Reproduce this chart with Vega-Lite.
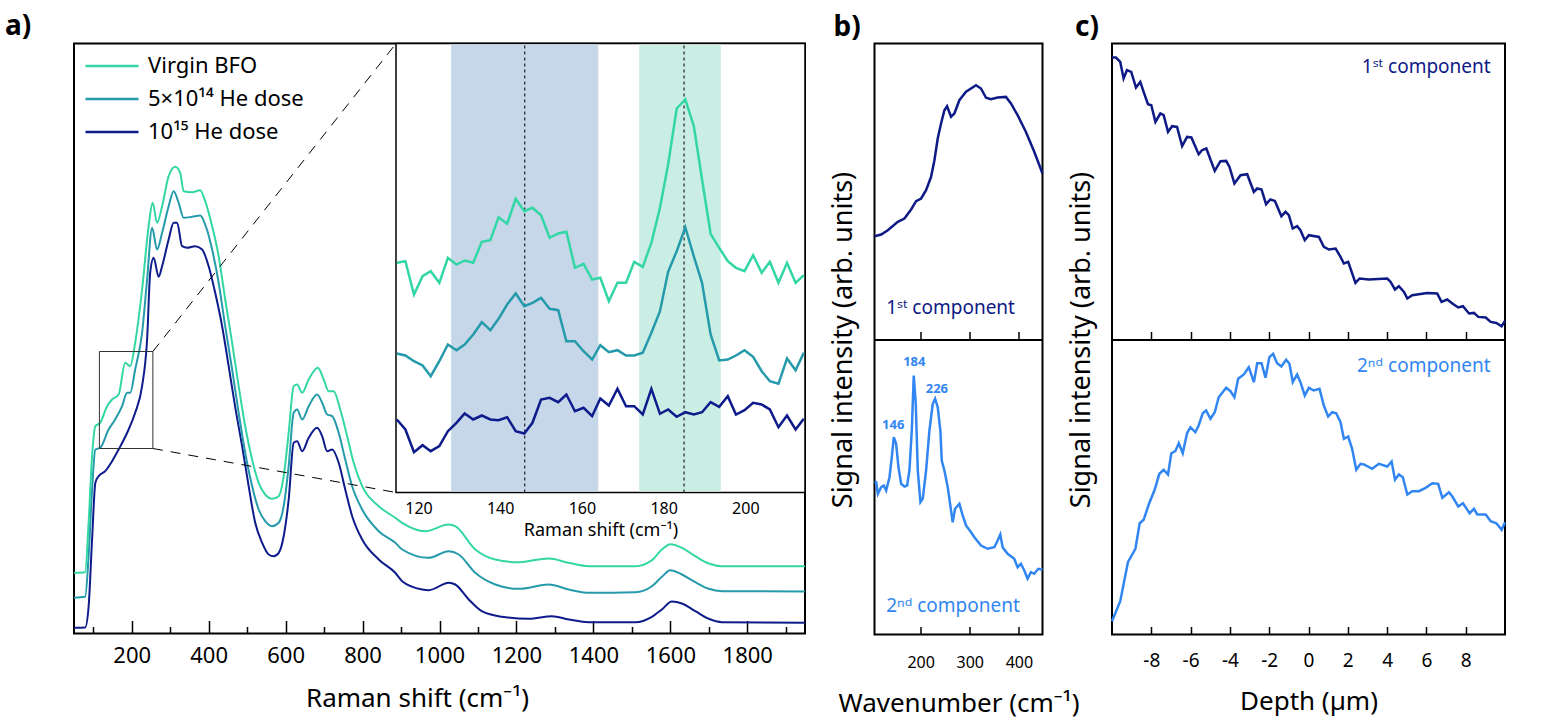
{
  "$schema": "https://vega.github.io/schema/vega-lite/v6.json",
  "padding": {"left": 4, "top": 11.5, "right": 10, "bottom": 8},
  "background": "white",
  "config": {
    "font": "Noto Sans",
    "view": {"stroke": "black", "strokeWidth": 2},
    "axis": {"labelFont": "Noto Sans", "titleFont": "Noto Sans", "titleFontWeight": "normal", "labelColor": "black", "titleColor": "black", "tickColor": "black", "grid": false, "labelOverlap": false, "tickWidth": 1.5},
    "title": {"anchor": "start", "frame": "group", "fontSize": 28, "fontWeight": "bold", "font": "Noto Sans", "color": "black", "baseline": "alphabetic", "offset": 2}
  },
  "datasets": {
    "main": [
      {"s":"10¹⁵ He dose","x":50,"y":5.7},{"s":"10¹⁵ He dose","x":79,"y":6},{"s":"10¹⁵ He dose","x":88,"y":27},{"s":"10¹⁵ He dose","x":97,"y":94},{"s":"10¹⁵ He dose","x":105.5,"y":150.7},{"s":"10¹⁵ He dose","x":114,"y":157.3},{"s":"10¹⁵ He dose","x":131,"y":162.3},{"s":"10¹⁵ He dose","x":149,"y":172.3},{"s":"10¹⁵ He dose","x":166,"y":184},{"s":"10¹⁵ He dose","x":192,"y":204},{"s":"10¹⁵ He dose","x":209,"y":220.7},{"s":"10¹⁵ He dose","x":227,"y":247.3},{"s":"10¹⁵ He dose","x":240,"y":294},{"s":"10¹⁵ He dose","x":248,"y":360.7},{"s":"10¹⁵ He dose","x":257,"y":375.7},{"s":"10¹⁵ He dose","x":270,"y":356.7},{"s":"10¹⁵ He dose","x":279,"y":367.3},{"s":"10¹⁵ He dose","x":296,"y":394},{"s":"10¹⁵ He dose","x":309,"y":410.7},{"s":"10¹⁵ He dose","x":318,"y":410.7},{"s":"10¹⁵ He dose","x":331,"y":387.3},{"s":"10¹⁵ He dose","x":344,"y":385.7},{"s":"10¹⁵ He dose","x":365,"y":387.3},{"s":"10¹⁵ He dose","x":383,"y":384},{"s":"10¹⁵ He dose","x":400,"y":367.3},{"s":"10¹⁵ He dose","x":417,"y":340.7},{"s":"10¹⁵ He dose","x":435,"y":307.3},{"s":"10¹⁵ He dose","x":452,"y":267.3},{"s":"10¹⁵ He dose","x":469,"y":226.3},{"s":"10¹⁵ He dose","x":487,"y":187.3},{"s":"10¹⁵ He dose","x":504,"y":147.3},{"s":"10¹⁵ He dose","x":521,"y":110.7},{"s":"10¹⁵ He dose","x":539,"y":90.7},{"s":"10¹⁵ He dose","x":556,"y":79},{"s":"10¹⁵ He dose","x":569,"y":77.3},{"s":"10¹⁵ He dose","x":582,"y":80.7},{"s":"10¹⁵ He dose","x":595,"y":97.3},{"s":"10¹⁵ He dose","x":608,"y":134},{"s":"10¹⁵ He dose","x":621,"y":190.7},{"s":"10¹⁵ He dose","x":630,"y":192.3},{"s":"10¹⁵ He dose","x":643,"y":182.3},{"s":"10¹⁵ He dose","x":660,"y":195.7},{"s":"10¹⁵ He dose","x":682,"y":205.7},{"s":"10¹⁵ He dose","x":695,"y":197.3},{"s":"10¹⁵ He dose","x":708,"y":182.3},{"s":"10¹⁵ He dose","x":721,"y":184},{"s":"10¹⁵ He dose","x":738,"y":170.7},{"s":"10¹⁵ He dose","x":755,"y":144},{"s":"10¹⁵ He dose","x":773,"y":117.3},{"s":"10¹⁵ He dose","x":799,"y":94},{"s":"10¹⁵ He dose","x":842,"y":74},{"s":"10¹⁵ He dose","x":885,"y":60.7},{"s":"10¹⁵ He dose","x":903,"y":52.3},{"s":"10¹⁵ He dose","x":955,"y":44},{"s":"10¹⁵ He dose","x":972,"y":43.3},{"s":"10¹⁵ He dose","x":1024,"y":50.7},{"s":"10¹⁵ He dose","x":1041,"y":49},{"s":"10¹⁵ He dose","x":1076,"y":34},{"s":"10¹⁵ He dose","x":1110,"y":22.3},{"s":"10¹⁵ He dose","x":1162,"y":16.7},{"s":"10¹⁵ He dose","x":1232,"y":14.7},{"s":"10¹⁵ He dose","x":1292,"y":17.3},{"s":"10¹⁵ He dose","x":1336,"y":14},{"s":"10¹⁵ He dose","x":1388,"y":11.3},{"s":"10¹⁵ He dose","x":1509,"y":11.3},{"s":"10¹⁵ He dose","x":1552,"y":16.7},{"s":"10¹⁵ He dose","x":1578,"y":24},{"s":"10¹⁵ He dose","x":1604,"y":32},{"s":"10¹⁵ He dose","x":1630,"y":30},{"s":"10¹⁵ He dose","x":1665,"y":22.3},{"s":"10¹⁵ He dose","x":1700,"y":14.7},{"s":"10¹⁵ He dose","x":1734,"y":11.3},{"s":"10¹⁵ He dose","x":1950,"y":10.7},
      {"s":"5×10¹⁴ He dose","x":50,"y":35.7},{"s":"5×10¹⁴ He dose","x":79,"y":36.7},{"s":"5×10¹⁴ He dose","x":88,"y":77.3},{"s":"5×10¹⁴ He dose","x":97,"y":144},{"s":"5×10¹⁴ He dose","x":105.5,"y":184},{"s":"5×10¹⁴ He dose","x":118,"y":185.7},{"s":"5×10¹⁴ He dose","x":140,"y":204},{"s":"5×10¹⁴ He dose","x":157,"y":214},{"s":"5×10¹⁴ He dose","x":175,"y":227.3},{"s":"5×10¹⁴ He dose","x":188,"y":240.7},{"s":"5×10¹⁴ He dose","x":196,"y":240.7},{"s":"5×10¹⁴ He dose","x":209,"y":264},{"s":"5×10¹⁴ He dose","x":227,"y":300.7},{"s":"5×10¹⁴ He dose","x":240,"y":354},{"s":"5×10¹⁴ He dose","x":253,"y":405.7},{"s":"5×10¹⁴ He dose","x":266,"y":384},{"s":"5×10¹⁴ He dose","x":279,"y":400.7},{"s":"5×10¹⁴ He dose","x":296,"y":427.3},{"s":"5×10¹⁴ He dose","x":309,"y":442.3},{"s":"5×10¹⁴ He dose","x":322,"y":430.7},{"s":"5×10¹⁴ He dose","x":335,"y":415.7},{"s":"5×10¹⁴ He dose","x":357,"y":416.7},{"s":"5×10¹⁴ He dose","x":378,"y":418},{"s":"5×10¹⁴ He dose","x":391,"y":409},{"s":"5×10¹⁴ He dose","x":409,"y":384},{"s":"5×10¹⁴ He dose","x":426,"y":350.7},{"s":"5×10¹⁴ He dose","x":443,"y":307.3},{"s":"5×10¹⁴ He dose","x":461,"y":264},{"s":"5×10¹⁴ He dose","x":478,"y":220.7},{"s":"5×10¹⁴ He dose","x":495,"y":180.7},{"s":"5×10¹⁴ He dose","x":513,"y":147.3},{"s":"5×10¹⁴ He dose","x":530,"y":124},{"s":"5×10¹⁴ He dose","x":547,"y":112.3},{"s":"5×10¹⁴ He dose","x":565,"y":107.3},{"s":"5×10¹⁴ He dose","x":582,"y":110.7},{"s":"5×10¹⁴ He dose","x":595,"y":127.3},{"s":"5×10¹⁴ He dose","x":608,"y":167.3},{"s":"5×10¹⁴ He dose","x":621,"y":220.7},{"s":"5×10¹⁴ He dose","x":630,"y":224},{"s":"5×10¹⁴ He dose","x":643,"y":214},{"s":"5×10¹⁴ He dose","x":660,"y":227.3},{"s":"5×10¹⁴ He dose","x":682,"y":239},{"s":"5×10¹⁴ He dose","x":695,"y":230.7},{"s":"5×10¹⁴ He dose","x":708,"y":219},{"s":"5×10¹⁴ He dose","x":721,"y":217.3},{"s":"5×10¹⁴ He dose","x":738,"y":200.7},{"s":"5×10¹⁴ He dose","x":755,"y":174},{"s":"5×10¹⁴ He dose","x":773,"y":147.3},{"s":"5×10¹⁴ He dose","x":799,"y":124},{"s":"5×10¹⁴ He dose","x":842,"y":102.3},{"s":"5×10¹⁴ He dose","x":885,"y":90.7},{"s":"5×10¹⁴ He dose","x":903,"y":84},{"s":"5×10¹⁴ He dose","x":972,"y":75.7},{"s":"5×10¹⁴ He dose","x":1024,"y":82.3},{"s":"5×10¹⁴ He dose","x":1050,"y":79},{"s":"5×10¹⁴ He dose","x":1093,"y":60.7},{"s":"5×10¹⁴ He dose","x":1145,"y":49},{"s":"5×10¹⁴ He dose","x":1206,"y":44.7},{"s":"5×10¹⁴ He dose","x":1284,"y":49},{"s":"5×10¹⁴ He dose","x":1336,"y":44},{"s":"5×10¹⁴ He dose","x":1388,"y":40.7},{"s":"5×10¹⁴ He dose","x":1509,"y":41.3},{"s":"5×10¹⁴ He dose","x":1552,"y":47.3},{"s":"5×10¹⁴ He dose","x":1578,"y":56.7},{"s":"5×10¹⁴ He dose","x":1600,"y":63.3},{"s":"5×10¹⁴ He dose","x":1630,"y":59},{"s":"5×10¹⁴ He dose","x":1665,"y":51.3},{"s":"5×10¹⁴ He dose","x":1700,"y":44.7},{"s":"5×10¹⁴ He dose","x":1734,"y":42.3},{"s":"5×10¹⁴ He dose","x":1950,"y":42},
      {"s":"Virgin BFO","x":50,"y":60.7},{"s":"Virgin BFO","x":79,"y":61.3},{"s":"Virgin BFO","x":88,"y":110.7},{"s":"Virgin BFO","x":97,"y":177.3},{"s":"Virgin BFO","x":105.5,"y":207.3},{"s":"Virgin BFO","x":118,"y":210.7},{"s":"Virgin BFO","x":136,"y":227.3},{"s":"Virgin BFO","x":149,"y":234},{"s":"Virgin BFO","x":166,"y":239},{"s":"Virgin BFO","x":183,"y":270.7},{"s":"Virgin BFO","x":196,"y":267.3},{"s":"Virgin BFO","x":209,"y":290.7},{"s":"Virgin BFO","x":227,"y":344},{"s":"Virgin BFO","x":244,"y":407.3},{"s":"Virgin BFO","x":254.5,"y":430.7},{"s":"Virgin BFO","x":266,"y":410.7},{"s":"Virgin BFO","x":279,"y":427.3},{"s":"Virgin BFO","x":296,"y":457.3},{"s":"Virgin BFO","x":313,"y":466.7},{"s":"Virgin BFO","x":326,"y":460.7},{"s":"Virgin BFO","x":335,"y":442.3},{"s":"Virgin BFO","x":357,"y":441.3},{"s":"Virgin BFO","x":378,"y":443.3},{"s":"Virgin BFO","x":391,"y":432.3},{"s":"Virgin BFO","x":409,"y":407.3},{"s":"Virgin BFO","x":426,"y":377.3},{"s":"Virgin BFO","x":443,"y":334},{"s":"Virgin BFO","x":461,"y":290.7},{"s":"Virgin BFO","x":478,"y":247.3},{"s":"Virgin BFO","x":495,"y":207.3},{"s":"Virgin BFO","x":513,"y":174},{"s":"Virgin BFO","x":530,"y":150.7},{"s":"Virgin BFO","x":547,"y":139},{"s":"Virgin BFO","x":565,"y":134.7},{"s":"Virgin BFO","x":582,"y":137.3},{"s":"Virgin BFO","x":595,"y":157.3},{"s":"Virgin BFO","x":608,"y":200.7},{"s":"Virgin BFO","x":621,"y":247.3},{"s":"Virgin BFO","x":630,"y":249},{"s":"Virgin BFO","x":643,"y":240.7},{"s":"Virgin BFO","x":660,"y":254},{"s":"Virgin BFO","x":684,"y":265.7},{"s":"Virgin BFO","x":699,"y":254},{"s":"Virgin BFO","x":712,"y":242.3},{"s":"Virgin BFO","x":725,"y":242.3},{"s":"Virgin BFO","x":742,"y":224},{"s":"Virgin BFO","x":760,"y":197.3},{"s":"Virgin BFO","x":777,"y":170.7},{"s":"Virgin BFO","x":799,"y":147.3},{"s":"Virgin BFO","x":842,"y":127.3},{"s":"Virgin BFO","x":885,"y":115.7},{"s":"Virgin BFO","x":903,"y":110.7},{"s":"Virgin BFO","x":963,"y":102.3},{"s":"Virgin BFO","x":1024,"y":109},{"s":"Virgin BFO","x":1041,"y":107.3},{"s":"Virgin BFO","x":1093,"y":84},{"s":"Virgin BFO","x":1145,"y":74},{"s":"Virgin BFO","x":1206,"y":71.3},{"s":"Virgin BFO","x":1284,"y":75},{"s":"Virgin BFO","x":1336,"y":70.7},{"s":"Virgin BFO","x":1388,"y":67.3},{"s":"Virgin BFO","x":1509,"y":67.3},{"s":"Virgin BFO","x":1552,"y":73.3},{"s":"Virgin BFO","x":1578,"y":84},{"s":"Virgin BFO","x":1600,"y":89.3},{"s":"Virgin BFO","x":1630,"y":85.7},{"s":"Virgin BFO","x":1665,"y":77.3},{"s":"Virgin BFO","x":1700,"y":70},{"s":"Virgin BFO","x":1734,"y":67.3},{"s":"Virgin BFO","x":1950,"y":67.3}
    ],
    "inset": [
      {"s":"10¹⁵ He dose","x":114.7,"y":73},{"s":"10¹⁵ He dose","x":116.8,"y":63},{"s":"10¹⁵ He dose","x":118.9,"y":40.3},{"s":"10¹⁵ He dose","x":121.0,"y":47.3},{"s":"10¹⁵ He dose","x":123.0,"y":41.3},{"s":"10¹⁵ He dose","x":125.1,"y":46.3},{"s":"10¹⁵ He dose","x":127.2,"y":61.3},{"s":"10¹⁵ He dose","x":129.3,"y":69.7},{"s":"10¹⁵ He dose","x":131.3,"y":79},{"s":"10¹⁵ He dose","x":133.4,"y":73},{"s":"10¹⁵ He dose","x":135.5,"y":77},{"s":"10¹⁵ He dose","x":137.6,"y":73},{"s":"10¹⁵ He dose","x":139.6,"y":72.3},{"s":"10¹⁵ He dose","x":141.7,"y":75.3},{"s":"10¹⁵ He dose","x":143.8,"y":61.3},{"s":"10¹⁵ He dose","x":145.9,"y":59},{"s":"10¹⁵ He dose","x":147.9,"y":69.7},{"s":"10¹⁵ He dose","x":150.0,"y":93},{"s":"10¹⁵ He dose","x":152.1,"y":94.7},{"s":"10¹⁵ He dose","x":154.2,"y":90.3},{"s":"10¹⁵ He dose","x":156.2,"y":98},{"s":"10¹⁵ He dose","x":158.3,"y":81.3},{"s":"10¹⁵ He dose","x":160.4,"y":84.7},{"s":"10¹⁵ He dose","x":162.5,"y":76.3},{"s":"10¹⁵ He dose","x":164.5,"y":94},{"s":"10¹⁵ He dose","x":166.6,"y":87},{"s":"10¹⁵ He dose","x":168.7,"y":103.7},{"s":"10¹⁵ He dose","x":170.8,"y":86.3},{"s":"10¹⁵ He dose","x":172.8,"y":86.3},{"s":"10¹⁵ He dose","x":174.9,"y":78},{"s":"10¹⁵ He dose","x":177.0,"y":103.7},{"s":"10¹⁵ He dose","x":179.1,"y":78.7},{"s":"10¹⁵ He dose","x":181.1,"y":83},{"s":"10¹⁵ He dose","x":183.2,"y":75.7},{"s":"10¹⁵ He dose","x":185.3,"y":80.3},{"s":"10¹⁵ He dose","x":187.4,"y":78},{"s":"10¹⁵ He dose","x":189.4,"y":80.3},{"s":"10¹⁵ He dose","x":191.5,"y":90.3},{"s":"10¹⁵ He dose","x":193.6,"y":85.7},{"s":"10¹⁵ He dose","x":195.7,"y":96.3},{"s":"10¹⁵ He dose","x":197.7,"y":78},{"s":"10¹⁵ He dose","x":199.8,"y":82.3},{"s":"10¹⁵ He dose","x":201.9,"y":89.7},{"s":"10¹⁵ He dose","x":204.0,"y":88},{"s":"10¹⁵ He dose","x":206.0,"y":83},{"s":"10¹⁵ He dose","x":208.1,"y":65.3},{"s":"10¹⁵ He dose","x":210.2,"y":77},{"s":"10¹⁵ He dose","x":212.3,"y":63},{"s":"10¹⁵ He dose","x":214.3,"y":73.7},
      {"s":"5×10¹⁴ He dose","x":114.7,"y":139},{"s":"5×10¹⁴ He dose","x":116.8,"y":137},{"s":"5×10¹⁴ He dose","x":118.9,"y":131.3},{"s":"5×10¹⁴ He dose","x":121.0,"y":127},{"s":"5×10¹⁴ He dose","x":123.0,"y":116.3},{"s":"5×10¹⁴ He dose","x":125.1,"y":131.3},{"s":"5×10¹⁴ He dose","x":127.2,"y":148},{"s":"5×10¹⁴ He dose","x":129.3,"y":142.3},{"s":"5×10¹⁴ He dose","x":131.3,"y":148},{"s":"5×10¹⁴ He dose","x":133.4,"y":158},{"s":"5×10¹⁴ He dose","x":135.5,"y":170.3},{"s":"5×10¹⁴ He dose","x":137.6,"y":162.3},{"s":"5×10¹⁴ He dose","x":139.6,"y":173.7},{"s":"5×10¹⁴ He dose","x":141.7,"y":188},{"s":"5×10¹⁴ He dose","x":143.8,"y":199},{"s":"5×10¹⁴ He dose","x":145.9,"y":186.3},{"s":"5×10¹⁴ He dose","x":147.9,"y":189.7},{"s":"5×10¹⁴ He dose","x":150.0,"y":194.7},{"s":"5×10¹⁴ He dose","x":152.1,"y":183.7},{"s":"5×10¹⁴ He dose","x":154.2,"y":182.3},{"s":"5×10¹⁴ He dose","x":156.2,"y":151.3},{"s":"5×10¹⁴ He dose","x":158.3,"y":151.3},{"s":"5×10¹⁴ He dose","x":160.4,"y":141.3},{"s":"5×10¹⁴ He dose","x":162.5,"y":133},{"s":"5×10¹⁴ He dose","x":164.5,"y":147.3},{"s":"5×10¹⁴ He dose","x":166.6,"y":140.3},{"s":"5×10¹⁴ He dose","x":168.7,"y":142.3},{"s":"5×10¹⁴ He dose","x":170.8,"y":137},{"s":"5×10¹⁴ He dose","x":172.8,"y":137},{"s":"5×10¹⁴ He dose","x":174.9,"y":139.7},{"s":"5×10¹⁴ He dose","x":177.0,"y":159.7},{"s":"5×10¹⁴ He dose","x":179.1,"y":181.3},{"s":"5×10¹⁴ He dose","x":181.1,"y":220.7},{"s":"5×10¹⁴ He dose","x":183.2,"y":241.3},{"s":"5×10¹⁴ He dose","x":185.3,"y":265.3},{"s":"5×10¹⁴ He dose","x":187.4,"y":236},{"s":"5×10¹⁴ He dose","x":189.4,"y":209.7},{"s":"5×10¹⁴ He dose","x":191.5,"y":158},{"s":"5×10¹⁴ He dose","x":193.6,"y":132},{"s":"5×10¹⁴ He dose","x":195.7,"y":133},{"s":"5×10¹⁴ He dose","x":197.7,"y":137},{"s":"5×10¹⁴ He dose","x":199.8,"y":142.3},{"s":"5×10¹⁴ He dose","x":201.9,"y":135.7},{"s":"5×10¹⁴ He dose","x":204.0,"y":121.3},{"s":"5×10¹⁴ He dose","x":206.0,"y":111.3},{"s":"5×10¹⁴ He dose","x":208.1,"y":108.7},{"s":"5×10¹⁴ He dose","x":210.2,"y":134},{"s":"5×10¹⁴ He dose","x":212.3,"y":122.3},{"s":"5×10¹⁴ He dose","x":214.3,"y":139.7},
      {"s":"Virgin BFO","x":114.7,"y":229.7},{"s":"Virgin BFO","x":116.8,"y":231.3},{"s":"Virgin BFO","x":118.9,"y":198},{"s":"Virgin BFO","x":121.0,"y":216.3},{"s":"Virgin BFO","x":123.0,"y":221.3},{"s":"Virgin BFO","x":125.1,"y":209.7},{"s":"Virgin BFO","x":127.2,"y":234.7},{"s":"Virgin BFO","x":129.3,"y":228},{"s":"Virgin BFO","x":131.3,"y":232},{"s":"Virgin BFO","x":133.4,"y":229.7},{"s":"Virgin BFO","x":135.5,"y":250.7},{"s":"Virgin BFO","x":137.6,"y":252.3},{"s":"Virgin BFO","x":139.6,"y":275.3},{"s":"Virgin BFO","x":141.7,"y":268.7},{"s":"Virgin BFO","x":143.8,"y":293.7},{"s":"Virgin BFO","x":145.9,"y":281.3},{"s":"Virgin BFO","x":147.9,"y":284.7},{"s":"Virgin BFO","x":150.0,"y":277.3},{"s":"Virgin BFO","x":152.1,"y":254.7},{"s":"Virgin BFO","x":154.2,"y":259},{"s":"Virgin BFO","x":156.2,"y":260.7},{"s":"Virgin BFO","x":158.3,"y":224.7},{"s":"Virgin BFO","x":160.4,"y":228.7},{"s":"Virgin BFO","x":162.5,"y":213},{"s":"Virgin BFO","x":164.5,"y":214.7},{"s":"Virgin BFO","x":166.6,"y":191.3},{"s":"Virgin BFO","x":168.7,"y":209.7},{"s":"Virgin BFO","x":170.8,"y":209.7},{"s":"Virgin BFO","x":172.8,"y":230.7},{"s":"Virgin BFO","x":174.9,"y":225.7},{"s":"Virgin BFO","x":177.0,"y":249.7},{"s":"Virgin BFO","x":179.1,"y":284.7},{"s":"Virgin BFO","x":181.1,"y":328},{"s":"Virgin BFO","x":183.2,"y":384},{"s":"Virgin BFO","x":185.3,"y":393},{"s":"Virgin BFO","x":187.4,"y":366.3},{"s":"Virgin BFO","x":189.4,"y":313},{"s":"Virgin BFO","x":191.5,"y":258.7},{"s":"Virgin BFO","x":193.6,"y":244.7},{"s":"Virgin BFO","x":195.7,"y":231.3},{"s":"Virgin BFO","x":197.7,"y":224.7},{"s":"Virgin BFO","x":199.8,"y":221.3},{"s":"Virgin BFO","x":201.9,"y":237.3},{"s":"Virgin BFO","x":204.0,"y":219.7},{"s":"Virgin BFO","x":206.0,"y":230.7},{"s":"Virgin BFO","x":208.1,"y":209.7},{"s":"Virgin BFO","x":210.2,"y":229.7},{"s":"Virgin BFO","x":212.3,"y":209.7},{"s":"Virgin BFO","x":214.3,"y":217.3}
    ],
    "b1": [
      {"x":106,"y":103.3},{"x":119.6,"y":105},{"x":133.1,"y":109.3},{"x":153.4,"y":117.7},{"x":167,"y":121},{"x":180.5,"y":130},{"x":190.7,"y":138.3},{"x":200.9,"y":141},{"x":211,"y":149.3},{"x":221.2,"y":162.7},{"x":228,"y":179.3},{"x":234.7,"y":201},{"x":241.5,"y":216},{"x":248.3,"y":229.3},{"x":253.7,"y":233.3},{"x":261.8,"y":222.7},{"x":268.6,"y":226},{"x":278.8,"y":239.3},{"x":292.3,"y":247.7},{"x":302.5,"y":251},{"x":312.6,"y":254.3},{"x":322.8,"y":251},{"x":333,"y":241.7},{"x":343.1,"y":240.3},{"x":356.7,"y":242},{"x":373.6,"y":242.6},{"x":383.8,"y":236},{"x":397.3,"y":224.3},{"x":414.3,"y":207.6},{"x":431.2,"y":187.7},{"x":448,"y":166}
    ],
    "b2": [
      {"x":106,"y":152},{"x":109.4,"y":152.3},{"x":112.8,"y":140.7},{"x":119.6,"y":147.3},{"x":125,"y":149},{"x":129.7,"y":144},{"x":136.5,"y":157.3},{"x":141.2,"y":177.3},{"x":145.3,"y":197.3},{"x":150,"y":190.7},{"x":154.8,"y":167.3},{"x":160.2,"y":150.7},{"x":167,"y":148},{"x":172.4,"y":149},{"x":177.1,"y":164},{"x":181.9,"y":204},{"x":185.9,"y":259},{"x":190,"y":230.7},{"x":194.1,"y":164},{"x":199.5,"y":132.3},{"x":204.2,"y":135.7},{"x":211,"y":164},{"x":217.8,"y":204},{"x":224.6,"y":230.7},{"x":229.3,"y":235.7},{"x":234.7,"y":227.3},{"x":240.1,"y":204},{"x":242.9,"y":174},{"x":248.3,"y":164},{"x":255.1,"y":147.3},{"x":261.8,"y":124},{"x":265.2,"y":112.3},{"x":270,"y":125.7},{"x":278.8,"y":130.7},{"x":285.5,"y":119},{"x":292.3,"y":109},{"x":302.5,"y":102.3},{"x":309.3,"y":97.3},{"x":322.8,"y":89},{"x":336.4,"y":85.7},{"x":349.9,"y":87.3},{"x":356.7,"y":94},{"x":362.1,"y":100},{"x":366.8,"y":87.3},{"x":377,"y":80.7},{"x":390.5,"y":75.7},{"x":397.3,"y":67.3},{"x":404.1,"y":70.7},{"x":410.9,"y":64},{"x":417.6,"y":55.7},{"x":424.4,"y":62.3},{"x":431.2,"y":60.7},{"x":439.3,"y":65.7},{"x":448,"y":64.7}
    ],
    "c1": [
      {"x":-10,"y":282},{"x":-9.8,"y":282},{"x":-9.58,"y":277.6},{"x":-9.41,"y":261},{"x":-9.24,"y":269.3},{"x":-9.02,"y":267.6},{"x":-8.78,"y":252},{"x":-8.56,"y":257.6},{"x":-8.39,"y":247.6},{"x":-8.17,"y":235.3},{"x":-8.0,"y":234.3},{"x":-7.79,"y":217.6},{"x":-7.54,"y":226},{"x":-7.37,"y":224.3},{"x":-7.15,"y":207.6},{"x":-6.94,"y":213.3},{"x":-6.69,"y":212.6},{"x":-6.43,"y":193.3},{"x":-6.18,"y":202.6},{"x":-5.96,"y":202},{"x":-5.59,"y":185.3},{"x":-5.42,"y":189.3},{"x":-5.2,"y":191},{"x":-4.77,"y":168.6},{"x":-4.48,"y":178.3},{"x":-4.19,"y":178.6},{"x":-4.02,"y":172.6},{"x":-3.77,"y":156},{"x":-3.46,"y":164.3},{"x":-3.12,"y":165.3},{"x":-2.78,"y":147.6},{"x":-2.61,"y":151},{"x":-2.39,"y":150},{"x":-2.16,"y":135.3},{"x":-1.94,"y":140},{"x":-1.71,"y":138.6},{"x":-1.38,"y":123.3},{"x":-1.17,"y":127.6},{"x":-1.0,"y":124.3},{"x":-0.8,"y":111},{"x":-0.58,"y":113.3},{"x":-0.41,"y":109.3},{"x":-0.19,"y":99.3},{"x":0.02,"y":104.3},{"x":0.53,"y":102.6},{"x":0.78,"y":92.6},{"x":1.04,"y":90},{"x":1.38,"y":91},{"x":1.63,"y":82.6},{"x":1.8,"y":76},{"x":2.02,"y":77.6},{"x":2.39,"y":56.6},{"x":2.6,"y":61},{"x":3.07,"y":60},{"x":4.01,"y":61},{"x":4.18,"y":57.6},{"x":4.4,"y":50},{"x":4.6,"y":53.3},{"x":4.86,"y":47.6},{"x":5.03,"y":41},{"x":5.28,"y":44.3},{"x":6.04,"y":46.6},{"x":6.55,"y":46},{"x":6.77,"y":37.6},{"x":7.06,"y":40},{"x":7.32,"y":36},{"x":7.62,"y":32},{"x":7.86,"y":33.3},{"x":8.17,"y":26},{"x":8.42,"y":26.6},{"x":8.64,"y":22.6},{"x":9.02,"y":22},{"x":9.27,"y":17.6},{"x":9.56,"y":16.6},{"x":9.83,"y":13.3},{"x":10,"y":18.6}
    ],
    "c2": [
      {"x":-10,"y":13.3},{"x":-9.58,"y":33.3},{"x":-9.19,"y":72.3},{"x":-8.81,"y":85.7},{"x":-8.59,"y":111.3},{"x":-8.39,"y":114.7},{"x":-8.13,"y":130},{"x":-7.83,"y":144.7},{"x":-7.59,"y":160.7},{"x":-7.37,"y":164.7},{"x":-7.15,"y":160},{"x":-6.98,"y":181.3},{"x":-6.78,"y":183.3},{"x":-6.6,"y":191.3},{"x":-6.4,"y":181.3},{"x":-6.18,"y":201.3},{"x":-6.01,"y":207.3},{"x":-5.76,"y":202.3},{"x":-5.59,"y":209},{"x":-5.38,"y":221.3},{"x":-5.21,"y":224},{"x":-4.99,"y":215.7},{"x":-4.77,"y":222.3},{"x":-4.57,"y":237.3},{"x":-4.19,"y":246.7},{"x":-3.97,"y":243.3},{"x":-3.77,"y":237.3},{"x":-3.58,"y":255.7},{"x":-3.29,"y":260},{"x":-3.04,"y":267.3},{"x":-2.78,"y":252.3},{"x":-2.61,"y":271.3},{"x":-2.39,"y":271.3},{"x":-2.19,"y":256.7},{"x":-1.99,"y":277.3},{"x":-1.8,"y":280.7},{"x":-1.6,"y":271.3},{"x":-1.38,"y":268},{"x":-1.14,"y":274.7},{"x":-0.97,"y":270.7},{"x":-0.8,"y":252.3},{"x":-0.58,"y":260},{"x":-0.41,"y":252.3},{"x":-0.19,"y":239},{"x":0.02,"y":246.7},{"x":0.27,"y":244},{"x":0.56,"y":245.7},{"x":0.78,"y":229},{"x":1.0,"y":218},{"x":1.21,"y":222.3},{"x":1.41,"y":221.3},{"x":1.63,"y":212.3},{"x":1.8,"y":195.7},{"x":2.02,"y":198},{"x":2.22,"y":185.7},{"x":2.43,"y":164.7},{"x":2.65,"y":170.7},{"x":2.82,"y":170},{"x":3.24,"y":165.7},{"x":3.58,"y":170.7},{"x":4.01,"y":168},{"x":4.23,"y":173},{"x":4.4,"y":154.7},{"x":4.6,"y":160},{"x":4.8,"y":157.3},{"x":5.03,"y":140},{"x":5.28,"y":143.3},{"x":5.62,"y":143.3},{"x":5.96,"y":146.7},{"x":6.3,"y":151.3},{"x":6.6,"y":150.7},{"x":6.81,"y":136.7},{"x":7.15,"y":142.3},{"x":7.32,"y":138},{"x":7.62,"y":128},{"x":7.86,"y":131.3},{"x":8.2,"y":121.3},{"x":8.42,"y":125.7},{"x":8.59,"y":120},{"x":9.02,"y":120},{"x":9.27,"y":113.3},{"x":9.56,"y":111.3},{"x":9.83,"y":104.7},{"x":10,"y":112.3}
    ],
    "blabels": [
      {"x": 144, "y": 210, "t": "146"}, {"x": 187, "y": 273, "t": "184"}, {"x": 233, "y": 246, "t": "226"}
    ]
  },
  "bounds": "flush",
  "spacing": 69.5,
  "hconcat": [
    {
      "width": 731,
      "height": 590,
      "title": {"text": "a)", "dx": -69},
      "layer": [
        {
          "layer": [
            {
              "data": {"name": "main"},
              "mark": {"type": "line", "strokeWidth": 2, "interpolate": "monotone"},
              "encoding": {
                "x": {"field": "x", "type": "quantitative", "scale": {"domain": [50, 1950], "nice": false, "zero": false},
                  "axis": {"orient": "bottom", "values": [200, 400, 600, 800, 1000, 1200, 1400, 1600, 1800], "format": "d", "tickSize": -13, "domain": false, "labelFontSize": 22, "labelPadding": 25, "title": "Raman shift (cm⁻¹)", "titleFontSize": 26, "titlePadding": 19, "titleX": 343}},
                "y": {"field": "y", "type": "quantitative", "scale": {"domain": [0, 590], "nice": false, "zero": false},
                  "axis": {"orient": "left", "domain": false, "ticks": false, "labels": false, "title": "Raman intensity (arb. units)", "titleFontSize": 27, "titlePadding": 17, "titleY": 278}},
                "color": {"field": "s", "type": "nominal",
                  "scale": {"domain": ["Virgin BFO", "5×10¹⁴ He dose", "10¹⁵ He dose"], "range": ["#33d6a5", "#259aab", "#0d1b8b"]},
                  "legend": {"orient": "none", "legendX": 10, "legendY": 10, "title": null, "symbolType": "stroke", "symbolSize": 2809, "symbolStrokeWidth": 2.5, "labelFontSize": 22, "labelFont": "Noto Sans", "labelColor": "black", "clipHeight": 25, "rowPadding": 8, "labelOffset": 8, "padding": 0}}
              }
            },
            {
              "data": {"values": [{}]},
              "mark": {"type": "rect", "filled": false, "stroke": "#333333", "strokeWidth": 1},
              "encoding": {
                "x": {"datum": 116, "type": "quantitative", "scale": {"domain": [50, 1950], "nice": false, "zero": false},
                  "axis": {"orient": "bottom", "values": [100, 300, 500, 700, 900, 1100, 1300, 1500, 1700, 1900], "tickSize": -7, "domain": false, "labels": false, "title": null}},
                "x2": {"datum": 255},
                "y": {"datum": 185, "type": "quantitative", "scale": {"domain": [0, 590], "nice": false, "zero": false}, "axis": null},
                "y2": {"datum": 282}
              }
            },
            {
              "data": {"values": [{"x": 255, "y": 282, "x2": 887, "y2": 590}, {"x": 255, "y": 185, "x2": 887, "y2": 141}]},
              "mark": {"type": "rule", "strokeDash": [10, 8], "color": "black", "strokeWidth": 1},
              "encoding": {
                "x": {"field": "x", "type": "quantitative", "scale": {"domain": [50, 1950], "nice": false, "zero": false}, "axis": null},
                "x2": {"field": "x2"},
                "y": {"field": "y", "type": "quantitative", "scale": {"domain": [0, 590], "nice": false, "zero": false}, "axis": null},
                "y2": {"field": "y2"}
              }
            }
          ],
          "resolve": {"axis": {"x": "independent"}}
        },
        {
          "layer": [
            {
              "data": {"values": [{}]},
              "mark": {"type": "rect", "fill": "white", "stroke": "black", "strokeWidth": 1.5},
              "encoding": {
                "x": {"datum": 114.5, "type": "quantitative", "scale": {"domain": [114.5, 214.6], "range": [322, 731], "nice": false, "zero": false},
                  "axis": {"orient": "bottom", "offset": -141, "values": [120, 140, 160, 180, 200], "tickSize": -12, "domain": false, "labelFontSize": 16, "labelPadding": 20, "title": "Raman shift (cm⁻¹)", "titleFontSize": 18, "titlePadding": 5}},
                "x2": {"datum": 214.6},
                "y": {"datum": 0, "type": "quantitative", "scale": {"domain": [0, 449], "range": [449, 0], "nice": false, "zero": false},
                  "axis": {"orient": "left", "offset": -322, "domain": false, "ticks": false, "labels": false, "title": "Raman intensity (arb. units)", "titleFontSize": 18, "titlePadding": 7}},
                "y2": {"datum": 449}
              }
            },
            {
              "data": {"values": [{}]},
              "mark": {"type": "rect", "fill": "#c5d7e9"},
              "encoding": {
                "x": {"datum": 128, "type": "quantitative", "scale": {"domain": [114.5, 214.6], "range": [322, 731], "nice": false, "zero": false},
                  "axis": {"orient": "bottom", "offset": -141, "values": [130, 150, 170, 190, 210], "tickSize": -7, "domain": false, "labels": false, "title": null}},
                "x2": {"datum": 164},
                "y": {"datum": 1, "type": "quantitative", "scale": {"domain": [0, 449], "range": [449, 0], "nice": false, "zero": false}, "axis": null},
                "y2": {"datum": 448}
              }
            },
            {
              "data": {"values": [{}]},
              "mark": {"type": "rect", "fill": "#cbeee4"},
              "encoding": {
                "x": {"datum": 174, "type": "quantitative", "scale": {"domain": [114.5, 214.6], "range": [322, 731], "nice": false, "zero": false},
                  "axis": {"orient": "top", "values": [120, 140, 160, 180, 200], "tickSize": -12, "domain": false, "labels": false, "title": null}},
                "x2": {"datum": 194},
                "y": {"datum": 1, "type": "quantitative", "scale": {"domain": [0, 449], "range": [449, 0], "nice": false, "zero": false}, "axis": null},
                "y2": {"datum": 448}
              }
            },
            {
              "data": {"values": [{"peak": 146}, {"peak": 185}]},
              "mark": {"type": "rule", "strokeDash": [3, 3], "color": "#222222", "strokeWidth": 1.2},
              "encoding": {
                "x": {"field": "peak", "type": "quantitative", "scale": {"domain": [114.5, 214.6], "range": [322, 731], "nice": false, "zero": false},
                  "axis": {"orient": "top", "values": [130, 150, 170, 190, 210], "tickSize": -7, "domain": false, "labels": false, "title": null}},
                "y": {"datum": 0, "type": "quantitative", "scale": {"domain": [0, 449], "range": [449, 0], "nice": false, "zero": false}, "axis": null},
                "y2": {"datum": 449}
              }
            },
            {
              "data": {"name": "inset"},
              "mark": {"type": "line", "strokeWidth": 2.5},
              "encoding": {
                "x": {"field": "x", "type": "quantitative", "scale": {"domain": [114.5, 214.6], "range": [322, 731], "nice": false, "zero": false}, "axis": null},
                "y": {"field": "y", "type": "quantitative", "scale": {"domain": [0, 449], "range": [449, 0], "nice": false, "zero": false}, "axis": null},
                "color": {"field": "s", "type": "nominal", "legend": null}
              }
            }
          ],
          "resolve": {"axis": {"x": "independent"}}
        }
      ],
      "resolve": {"scale": {"x": "independent", "y": "independent"}}
    },
    {
      "width": 168,
      "height": 591,
      "title": {"text": "b)", "dx": -41},
      "layer": [
        {
          "layer": [
            {
              "data": {"name": "b1"},
              "mark": {"type": "line", "stroke": "#0e1a85", "strokeWidth": 2.5},
              "encoding": {
                "x": {"field": "x", "type": "quantitative", "scale": {"domain": [106, 448], "nice": false, "zero": false},
                  "axis": {"orient": "bottom", "offset": -295, "values": [200, 300, 400], "tickSize": -8, "domain": true, "domainColor": "black", "domainWidth": 2, "labels": false, "title": null}},
                "y": {"field": "y", "type": "quantitative", "scale": {"domain": [0, 296], "range": [296, 0], "nice": false, "zero": false},
                  "axis": {"orient": "left", "domain": false, "ticks": false, "labels": false, "title": "Signal intensity (arb. units)", "titleFontSize": 27, "titlePadding": 17, "titleY": 296}}
              }
            }
          ],
          "resolve": {"axis": {"x": "independent"}}
        },
        {
          "layer": [
            {
              "data": {"name": "b2"},
              "mark": {"type": "line", "stroke": "#3186f2", "strokeWidth": 2.5},
              "encoding": {
                "x": {"field": "x", "type": "quantitative", "scale": {"domain": [106, 448], "nice": false, "zero": false},
                  "axis": {"orient": "bottom", "values": [200, 300, 400], "tickSize": -8, "domain": false, "labelFontSize": 16, "labelPadding": 28, "title": "Wavenumber (cm⁻¹)", "titleFontSize": 26, "titlePadding": 20}},
                "y": {"field": "y", "type": "quantitative", "scale": {"domain": [0, 295], "range": [591, 296], "nice": false, "zero": false}, "axis": null}
              }
            }
          ],
          "resolve": {"axis": {"x": "independent"}}
        },
        {
          "layer": [
            {
              "data": {"name": "blabels"},
              "mark": {"type": "text", "align": "center", "baseline": "middle", "fontSize": 13, "fontWeight": "bold", "fill": "#3186f2"},
              "encoding": {
                "x": {"field": "x", "type": "quantitative", "scale": {"domain": [106, 448], "nice": false, "zero": false}, "axis": null},
                "y": {"field": "y", "type": "quantitative", "scale": {"domain": [0, 295], "range": [591, 296], "nice": false, "zero": false}, "axis": null},
                "text": {"field": "t"}
              }
            },
            {
              "data": {"values": [{}]},
              "mark": {"type": "text", "text": "2ⁿᵈ component", "align": "left", "baseline": "middle", "fontSize": 19, "fill": "#3186f2"},
              "encoding": {
                "x": {"datum": 129.7, "type": "quantitative", "scale": {"domain": [106, 448], "nice": false, "zero": false}, "axis": null},
                "y": {"datum": 29, "type": "quantitative", "scale": {"domain": [0, 295], "range": [591, 296], "nice": false, "zero": false}, "axis": null}
              }
            }
          ]
        },
        {
          "layer": [
            {
              "data": {"values": [{}]},
              "mark": {"type": "text", "text": "1ˢᵗ component", "align": "left", "baseline": "middle", "fontSize": 19, "fill": "#0e1a85"},
              "encoding": {
                "x": {"datum": 129.7, "type": "quantitative", "scale": {"domain": [106, 448], "nice": false, "zero": false}, "axis": null},
                "y": {"datum": 32, "type": "quantitative", "scale": {"domain": [0, 296], "range": [296, 0], "nice": false, "zero": false}, "axis": null}
              }
            }
          ]
        }
      ],
      "resolve": {"scale": {"x": "independent", "y": "independent"}}
    },
    {
      "width": 393,
      "height": 591,
      "title": {"text": "c)", "dx": -37},
      "layer": [
        {
          "layer": [
            {
              "data": {"name": "c1"},
              "mark": {"type": "line", "stroke": "#0e1a85", "strokeWidth": 2.5},
              "encoding": {
                "x": {"field": "x", "type": "quantitative", "scale": {"domain": [-10, 10], "nice": false, "zero": false},
                  "axis": {"orient": "bottom", "offset": -295, "values": [-8, -6, -4, -2, 0, 2, 4, 6, 8], "tickSize": -8, "domain": true, "domainColor": "black", "domainWidth": 2, "labels": false, "title": null}},
                "y": {"field": "y", "type": "quantitative", "scale": {"domain": [0, 296], "range": [296, 0], "nice": false, "zero": false},
                  "axis": {"orient": "left", "domain": false, "ticks": false, "labels": false, "title": "Signal intensity (arb. units)", "titleFontSize": 27, "titlePadding": 17, "titleY": 296}}
              }
            }
          ],
          "resolve": {"axis": {"x": "independent"}}
        },
        {
          "layer": [
            {
              "data": {"name": "c2"},
              "mark": {"type": "line", "stroke": "#3186f2", "strokeWidth": 2.5},
              "encoding": {
                "x": {"field": "x", "type": "quantitative", "scale": {"domain": [-10, 10], "nice": false, "zero": false},
                  "axis": {"orient": "bottom", "values": [-8, -6, -4, -2, 0, 2, 4, 6, 8], "tickSize": -8, "domain": false, "labelFontSize": 19, "labelPadding": 25, "labelExpr": "datum.value < 0 ? '-' + abs(datum.value) : '' + datum.value", "title": "Depth (µm)", "titleFontSize": 26, "titlePadding": 18}},
                "y": {"field": "y", "type": "quantitative", "scale": {"domain": [0, 295], "range": [591, 296], "nice": false, "zero": false}, "axis": null}
              }
            }
          ],
          "resolve": {"axis": {"x": "independent"}}
        },
        {
          "layer": [
            {
              "data": {"values": [{}]},
              "mark": {"type": "text", "text": "1ˢᵗ component", "align": "right", "baseline": "middle", "fontSize": 19, "fill": "#0e1a85"},
              "encoding": {
                "x": {"datum": 9.27, "type": "quantitative", "scale": {"domain": [-10, 10], "nice": false, "zero": false}, "axis": null},
                "y": {"datum": 272.6, "type": "quantitative", "scale": {"domain": [0, 296], "range": [296, 0], "nice": false, "zero": false}, "axis": null}
              }
            }
          ]
        },
        {
          "layer": [
            {
              "data": {"values": [{}]},
              "mark": {"type": "text", "text": "2ⁿᵈ component", "align": "right", "baseline": "middle", "fontSize": 19, "fill": "#3186f2"},
              "encoding": {
                "x": {"datum": 9.27, "type": "quantitative", "scale": {"domain": [-10, 10], "nice": false, "zero": false}, "axis": null},
                "y": {"datum": 269, "type": "quantitative", "scale": {"domain": [0, 295], "range": [591, 296], "nice": false, "zero": false}, "axis": null}
              }
            }
          ]
        }
      ],
      "resolve": {"scale": {"x": "independent", "y": "independent"}}
    }
  ]
}
